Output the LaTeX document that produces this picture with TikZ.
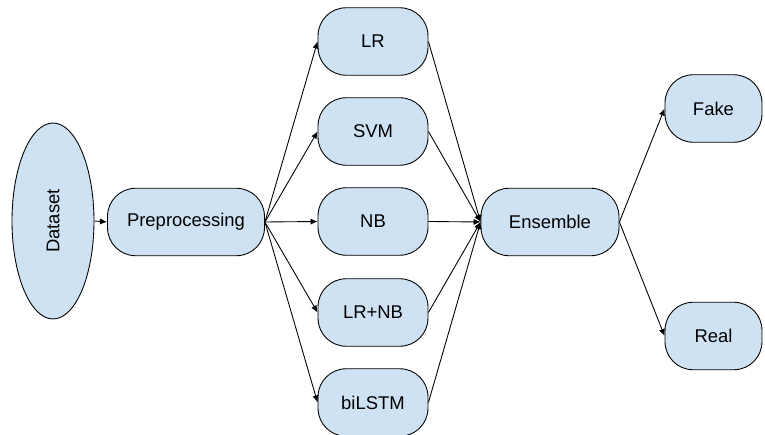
\documentclass[tikz,border=0pt]{standalone}
\usepackage{fontspec}
\setmainfont{Liberation Sans}
\usetikzlibrary{arrows.meta, positioning, shapes.geometric}
\definecolor{boxblue}{HTML}{CFE2F3}

\begin{document}
\begin{tikzpicture}[
  x=0.02cm, y=-0.02cm,
  every node/.style={font=\fontsize{10.5}{12}\selectfont},
  stage/.style={rectangle, rounded corners=16pt, draw=black, fill=boxblue, minimum height=1.35cm, align=center, line width=0.5pt},
  model/.style={stage, minimum width=2.2cm},
  source/.style={ellipse, draw=black, fill=boxblue, minimum width=1.64cm, minimum height=3.92cm, inner sep=0pt, line width=0.5pt},
  flow/.style={-{Latex[length=4pt, width=3.5pt]}, line width=0.5pt},
]
\useasboundingbox (0,0) rectangle (765,435);

\node[source] (data) at (53,221) {\rotatebox{90}{Dataset}};
\node[stage, minimum width=3.14cm] (prep) at (186,222) {Preprocessing};

% classifiers
\node[model] (lr) at (373,41.5) {LR};
\node[model] (svm) at (373,131.5) {SVM};
\node[model] (nb) at (373,221.5) {NB};
\node[model] (lrnb) at (373,312.5) {LR+NB};
\node[model] (bilstm) at (373,402.5) {biLSTM};

\node[stage, minimum width=2.76cm] (ens) at (550,222) {Ensemble};
\node[stage, minimum width=1.94cm] (fake) at (713.5,108.5) {Fake};
\node[stage, minimum width=1.94cm] (real) at (713.5,336) {Real};

\draw[flow] (data.east) -- (prep.west);
\foreach \m in {lr, svm, nb, lrnb, bilstm} {
  \draw[flow] (prep.east) -- (\m.west);
  \draw[flow] (\m.east) -- (ens.west);
}
\draw[flow] (ens.east) -- (fake.west);
\draw[flow] (ens.east) -- (real.west);

\end{tikzpicture}
\end{document}
